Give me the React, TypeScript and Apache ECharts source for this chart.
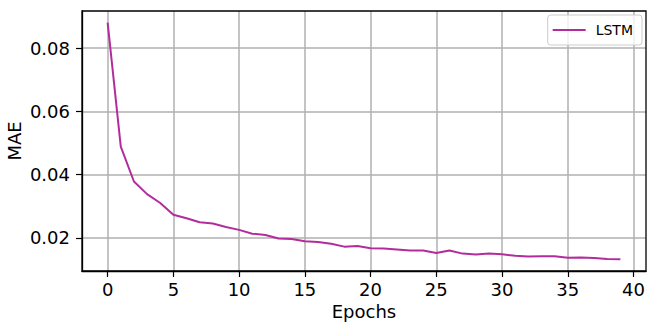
import React, { useEffect, useRef } from "react";
import * as echarts from "echarts";

const epochs: number[] = Array.from({ length: 40 }, (_, i) => i);
const maeLSTM: number[] = [
  0.088, 0.0488, 0.0378, 0.0338, 0.031, 0.0273, 0.0262, 0.0249, 0.0245, 0.0234,
  0.0225, 0.0213, 0.0209, 0.0198, 0.0196, 0.0189, 0.0187, 0.0181, 0.0172, 0.0174,
  0.0167, 0.0166, 0.0163, 0.016, 0.016, 0.0152, 0.016, 0.015, 0.0147, 0.015,
  0.0148, 0.0143, 0.0141, 0.0142, 0.0142, 0.0137, 0.0138, 0.0136, 0.0133, 0.0132,
];
const xTicks: number[] = [0, 5, 10, 15, 20, 25, 30, 35, 40];
const yTicks: number[] = [0.02, 0.04, 0.06, 0.08];

const FONT = "DejaVu Sans";
const LINE_COLOR = "#b22d9b";

export default function App() {
  const ref = useRef<HTMLDivElement>(null);
  useEffect(() => {
    if (!ref.current) return;
    const chart = echarts.init(ref.current, undefined, { renderer: "svg" });
    chart.setOption({
      animation: false,
      backgroundColor: "#ffffff",
      grid: {
        left: 82,
        right: 5,
        top: 11,
        bottom: 53,
        containLabel: false,
        outerBoundsMode: "none",
        show: true,
        borderColor: "#000000",
        borderWidth: 1.3,
        backgroundColor: "transparent",
        z: 3,
      },
      legend: {
        right: 9,
        top: 15,
        orient: "vertical",
        padding: [8, 9, 8, 5],
        itemWidth: 33,
        itemHeight: 2,
        backgroundColor: "rgba(255,255,255,0.8)",
        borderColor: "#cccccc",
        borderWidth: 1,
        borderRadius: 3,
        textStyle: { fontFamily: FONT, fontSize: 14, color: "#000", padding: [0, 0, 0, 5] },
        data: [{ name: "LSTM", icon: "rect", itemStyle: { color: LINE_COLOR } }],
      },
      xAxis: {
        type: "value",
        min: -1.95,
        max: 40.95,
        name: "Epochs",
        nameLocation: "middle",
        nameGap: 31,
        nameTextStyle: { fontFamily: FONT, fontSize: 18, color: "#000" },
        axisLine: { show: true, onZero: false, lineStyle: { color: "#000", width: 1.3 } },
        axisTick: { show: true, length: 6, customValues: xTicks, lineStyle: { color: "#000", width: 1.2 } },
        axisLabel: {
          customValues: xTicks,
          margin: 9,
          fontFamily: FONT,
          fontSize: 18,
          color: "#000",
        },
        splitLine: { show: true, customValues: xTicks, lineStyle: { color: "#b0b0b0", width: 1.5 } },
      },
      yAxis: {
        type: "value",
        min: 0.0095,
        max: 0.0917,
        name: "MAE",
        nameLocation: "middle",
        nameGap: 59,
        nameMoveOverlap: false,
        nameTextStyle: { fontFamily: FONT, fontSize: 18, color: "#000" },
        axisLine: { show: true, onZero: false, lineStyle: { color: "#000", width: 1.3 } },
        axisTick: { show: true, length: 6, customValues: yTicks, lineStyle: { color: "#000", width: 1.2 } },
        axisLabel: {
          customValues: yTicks,
          margin: 12,
          fontFamily: FONT,
          fontSize: 18,
          color: "#000",
          formatter: (v: number) => v.toFixed(2),
        },
        splitLine: { show: true, customValues: yTicks, lineStyle: { color: "#b0b0b0", width: 1.5 } },
      },
      series: [
        {
          name: "LSTM",
          type: "line",
          data: epochs.map((e, i) => [e, maeLSTM[i]]),
          symbol: "none",
          showSymbol: false,
          lineStyle: { color: LINE_COLOR, width: 2 },
          itemStyle: { color: LINE_COLOR },
          z: 4,
        },
      ],
    });
    return () => chart.dispose();
  }, []);
  return <div ref={ref} style={{ width: 651, height: 324, position: "absolute", left: 0, top: 0 }} />;
}
